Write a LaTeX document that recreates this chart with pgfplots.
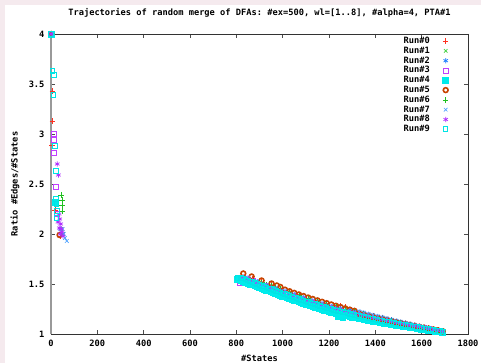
\documentclass[border=0pt]{standalone}
\usepackage{fontspec}
\setmonofont{DejaVu Sans Mono}
\usepackage{pgfplots}
\pgfplotsset{compat=1.18}
\newcommand\gfont{\ttfamily\bfseries\fontsize{8.7}{10}\selectfont}
\definecolor{rA}{RGB}{255,48,32}
\definecolor{rB}{RGB}{64,208,64}
\definecolor{rC}{RGB}{26,124,255}
\definecolor{rD}{RGB}{192,64,255}
\definecolor{rE}{RGB}{0,235,235}
\definecolor{rF}{RGB}{200,68,0}
\definecolor{rG}{RGB}{32,192,32}
\definecolor{rH}{RGB}{74,160,255}
\definecolor{rI}{RGB}{176,48,255}
\definecolor{rJ}{RGB}{0,228,228}
\definecolor{pinkbg}{RGB}{245,234,238}
\begin{document}
\begin{tikzpicture}
\fill[pinkbg] (-51pt,-29pt) rectangle (430pt,334pt);
\fill[white] (-46pt,-29pt) rectangle (430pt,329pt);
\begin{axis}[
  scale only axis, width=417pt, height=300pt,
  xmin=0, xmax=1800, ymin=1, ymax=4,
  xtick={0,200,400,600,800,1000,1200,1400,1600,1800},
  ytick={1,1.5,2,2.5,3,3.5,4},
  /pgf/number format/1000 sep={},
  /pgf/number format/assume math mode=true,
  tick align=inside, major tick length=4pt,
  tick style={black!70, line width=0.6pt},
  axis line style={draw=black!80, line width=0.8pt},
  ticklabel style={font=\gfont},
  xticklabel style={yshift=-3pt},
  yticklabel style={xshift=-3pt},
  title={Trajectories of random merge of DFAs: \#ex=500, wl=[1..8], \#alpha=4, PTA\#1},
  title style={font=\gfont, at={(axis description cs:0.5,1)}, anchor=base, yshift=12pt},
  xlabel={\#States},
  xlabel style={font=\gfont, at={(axis description cs:0.5,0)}, anchor=base, yshift=-28pt},
  ylabel={Ratio \#Edges/\#States},
  ylabel style={font=\gfont, at={(axis description cs:-0.0863,0.5)}, anchor=center},
  clip=false,
  legend plot pos=right,
  legend cell align=right,
  legend image code/.code={\path[draw=none,fill=none] (0cm,0cm) rectangle (0.8cm,0cm);
     \draw[#1, only marks] plot coordinates {(0.55cm,0cm)};},
  legend style={font=\gfont, draw=none, fill=none, inner sep=0pt,
    at={(axis description cs:1,1)}, anchor=north east, xshift=-15pt, yshift=-2pt,
    row sep=0pt, nodes={inner sep=0.3pt, text height=7pt, text depth=2.2pt}},
  every axis plot/.append style={only marks, line width=0.7pt},
]
\addplot[rA, mark=+, mark size=2.7pt] coordinates {(1,4) (6,3.43) (6,3.13) (5,2.89) (17,2.24) (39,1.98)
 (870,1.556) (910,1.520) (950,1.488) (990,1.456) (1030,1.424) (1070,1.392) (1110,1.361) (1150,1.332) (1190,1.304) (1230,1.285) (1250,1.284) (1270,1.271) (1310,1.227) (1350,1.204) (1390,1.180) (1430,1.159) (1470,1.138) (1510,1.116) (1550,1.097) (1590,1.077) (1630,1.058) (1670,1.039) (1690,1.030)};
\addlegendentry{Run\#0}
\addplot[rB, mark=x, mark size=2.5pt] coordinates {(1,4) (45,2.05) (52,2.0)
 (870,1.542) (910,1.506) (950,1.473) (990,1.441) (1030,1.409) (1070,1.377) (1110,1.346) (1150,1.317) (1190,1.288) (1230,1.263) (1270,1.238) (1310,1.214) (1350,1.191) (1390,1.169) (1430,1.149) (1470,1.129) (1510,1.109) (1550,1.090) (1590,1.072) (1630,1.054) (1670,1.036)};
\addlegendentry{Run\#1}
\addplot[rC, mark=asterisk, mark size=2.6pt] coordinates {(1,4) (40,2.05) (48,2.0)
 (850,1.559) (890,1.523) (930,1.490) (970,1.457) (1010,1.425) (1050,1.393) (1090,1.361) (1130,1.331) (1170,1.303) (1210,1.275) (1250,1.251) (1290,1.247) (1310,1.234) (1330,1.222) (1350,1.210) (1370,1.198) (1390,1.186) (1410,1.175) (1430,1.164) (1450,1.153) (1470,1.142) (1490,1.131) (1510,1.120) (1530,1.110) (1550,1.100) (1570,1.090) (1590,1.080) (1610,1.070) (1630,1.060) (1650,1.050) (1670,1.040) (1690,1.030)};
\addlegendentry{Run\#2}
\addplot[rD, mark=square, mark size=2.4pt] coordinates {(1,4) (11,3.0) (14,2.94) (14,2.81) (22,2.47) (25,2.2)
 (815,1.51) (830,1.564) (850,1.546) (870,1.528) (890,1.510) (910,1.492) (930,1.476) (950,1.459) (970,1.443) (990,1.426) (1010,1.410) (1030,1.394) (1050,1.378) (1070,1.362) (1090,1.346) (1110,1.331) (1130,1.316) (1150,1.302) (1170,1.287) (1190,1.273) (1210,1.260) (1230,1.248) (1250,1.236) (1270,1.224) (1290,1.21) (1300,1.19) (1310,1.200) (1320,1.17) (1330,1.19) (1350,1.179) (1370,1.168) (1390,1.158) (1410,1.148) (1430,1.139) (1450,1.130) (1470,1.120) (1490,1.110) (1510,1.101) (1530,1.092) (1550,1.084) (1570,1.075) (1590,1.067) (1610,1.058) (1630,1.050) (1650,1.042) (1670,1.034)};
\addlegendentry{Run\#3}
\addplot[rE, fill=rE, mark=square*, mark size=2.9pt] coordinates {(1,4) (20,2.32)
 (805,1.545) (810,1.545) (820,1.536) (830,1.527) (840,1.518) (850,1.509) (860,1.500) (870,1.492) (880,1.483) (890,1.474) (900,1.465) (910,1.457) (920,1.448) (930,1.440) (940,1.431) (950,1.423) (960,1.414) (970,1.406) (980,1.397) (990,1.389) (1000,1.380) (1010,1.372) (1020,1.364) (1030,1.356) (1040,1.348) (1050,1.340) (1060,1.332) (1070,1.324) (1080,1.316) (1090,1.308) (1100,1.300) (1110,1.293) (1120,1.285) (1130,1.278) (1140,1.270) (1150,1.263) (1160,1.255) (1170,1.248) (1180,1.240) (1190,1.233) (1200,1.225) (1210,1.220) (1220,1.214) (1230,1.209) (1240,1.175) (1250,1.198) (1260,1.17) (1270,1.187) (1280,1.181) (1290,1.176) (1300,1.170) (1310,1.166) (1320,1.161) (1330,1.157) (1340,1.152) (1350,1.148) (1360,1.143) (1370,1.139) (1380,1.134) (1390,1.130) (1400,1.125) (1410,1.121) (1420,1.117) (1430,1.113) (1440,1.109) (1450,1.105) (1460,1.101) (1470,1.097) (1480,1.093) (1490,1.089) (1500,1.085) (1510,1.082) (1520,1.078) (1530,1.075) (1540,1.071) (1550,1.068) (1560,1.064) (1570,1.061) (1580,1.057) (1590,1.054) (1600,1.050) (1610,1.047) (1620,1.043) (1630,1.040) (1640,1.036) (1650,1.033) (1660,1.030) (1670,1.027) (1680,1.023) (1690,1.020)};
\addlegendentry{Run\#4}
\addplot[rF, mark=o, mark size=2.4pt, line width=1.6pt] coordinates {(1,4) (37,1.99)
 (830,1.605) (866,1.575) (909,1.535) (952,1.505) (975,1.485) (990,1.47) (1010,1.443) (1030,1.427) (1050,1.411) (1070,1.395) (1090,1.379) (1110,1.364) (1130,1.350) (1150,1.336) (1170,1.322) (1190,1.308) (1210,1.295) (1230,1.282) (1250,1.269) (1270,1.256) (1290,1.243) (1310,1.231) (1330,1.203) (1350,1.191) (1370,1.180) (1390,1.169) (1410,1.159) (1430,1.149) (1450,1.139) (1470,1.129) (1490,1.118) (1510,1.109) (1530,1.100) (1550,1.090) (1570,1.081) (1590,1.072) (1610,1.063) (1630,1.054) (1650,1.045) (1670,1.036) (1690,1.027)};
\addlegendentry{Run\#5}
\addplot[rG, mark=+, mark size=2.7pt] coordinates {(1,4) (43,2.39) (47,2.34) (47,2.29) (50,2.23)
 (910,1.513) (930,1.497) (950,1.481) (970,1.464) (990,1.448) (1030,1.416) (1070,1.384) (1110,1.353) (1150,1.325) (1190,1.296) (1230,1.271) (1270,1.245) (1310,1.220) (1350,1.198) (1390,1.175) (1430,1.154) (1470,1.133) (1510,1.112) (1550,1.094) (1590,1.075) (1630,1.056) (1670,1.037)};
\addlegendentry{Run\#6}
\addplot[rH, mark=x, mark size=2.5pt] coordinates {(1,4) (50,2.05) (55,2.0) (60,1.96) (68,1.93)
 (850,1.563) (890,1.527) (930,1.493) (970,1.461) (1010,1.428) (1050,1.396) (1090,1.364) (1130,1.335) (1170,1.307) (1210,1.279) (1250,1.254) (1290,1.229) (1310,1.217) (1330,1.225) (1350,1.213) (1370,1.201) (1390,1.189) (1410,1.178) (1430,1.167) (1450,1.155) (1470,1.144) (1490,1.133) (1510,1.122) (1530,1.112) (1550,1.102) (1570,1.091) (1590,1.081) (1610,1.071) (1630,1.061) (1650,1.051) (1670,1.041) (1690,1.031)};
\addlegendentry{Run\#7}
\addplot[rI, mark=asterisk, mark size=2.6pt] coordinates {(1,4) (27,2.70) (32,2.59) (35,2.20) (38,2.15) (42,2.10) (45,2.05) (48,2.02) (52,1.98) (40,2.0) (30,2.12) (36,2.06)
 (830,1.571) (850,1.552) (870,1.535) (890,1.516) (910,1.499) (930,1.483) (950,1.466) (970,1.450) (990,1.433) (1010,1.417) (1030,1.401) (1050,1.385) (1070,1.369) (1090,1.353) (1110,1.338) (1130,1.324) (1150,1.309) (1170,1.295) (1190,1.280) (1210,1.267) (1230,1.255) (1250,1.243) (1270,1.231) (1290,1.219) (1310,1.207) (1330,1.196) (1350,1.185) (1370,1.174) (1390,1.164) (1410,1.153) (1430,1.144) (1450,1.134) (1470,1.124) (1490,1.114) (1510,1.105) (1530,1.096) (1550,1.087) (1570,1.078) (1590,1.070) (1610,1.061) (1630,1.052) (1650,1.043) (1670,1.035) (1690,1.026)};
\addlegendentry{Run\#8}
\addplot[rJ, mark=square, mark size=2.3pt, line width=1pt] coordinates {(1,4) (6,3.63) (14,3.59) (11,3.39) (16,2.88) (22,2.63) (22,2.35) (24,2.30) (26,2.23) (24,2.16)
 (805,1.56) (820,1.562) (830,1.553) (840,1.543) (850,1.534) (860,1.525) (870,1.517) (880,1.508) (890,1.499) (900,1.490) (910,1.481) (920,1.473) (930,1.465) (940,1.456) (950,1.448) (960,1.440) (970,1.432) (980,1.423) (990,1.415) (1000,1.406) (1010,1.398) (1020,1.390) (1030,1.382) (1040,1.374) (1050,1.366) (1060,1.358) (1070,1.350) (1080,1.342) (1090,1.334) (1100,1.326) (1110,1.319) (1120,1.312) (1130,1.305) (1140,1.297) (1150,1.290) (1160,1.282) (1170,1.275) (1180,1.268) (1190,1.261) (1200,1.254) (1210,1.248) (1220,1.242) (1230,1.236) (1240,1.230) (1250,1.224) (1260,1.218) (1270,1.213) (1280,1.207) (1290,1.201) (1300,1.195) (1310,1.190) (1320,1.185) (1330,1.180) (1340,1.175) (1350,1.170) (1360,1.165) (1370,1.160) (1380,1.155) (1390,1.150) (1400,1.145) (1410,1.140) (1420,1.135) (1430,1.131) (1440,1.126) (1450,1.122) (1460,1.117) (1470,1.113) (1480,1.108) (1490,1.104) (1500,1.099) (1510,1.095) (1520,1.091) (1530,1.087) (1540,1.083) (1550,1.079) (1560,1.075) (1570,1.071) (1580,1.067) (1590,1.063) (1600,1.059) (1610,1.055) (1620,1.051) (1630,1.047) (1640,1.043) (1650,1.039) (1660,1.035) (1670,1.032) (1680,1.028) (1690,1.024)};
\addlegendentry{Run\#9}
\draw[black!40, line width=1.4pt] (axis cs:0,1) -- (axis cs:0,4);
\end{axis}
\pgfresetboundingbox
\useasboundingbox (-51pt,-29pt) rectangle (430pt,334pt);
\end{tikzpicture}
\end{document}
